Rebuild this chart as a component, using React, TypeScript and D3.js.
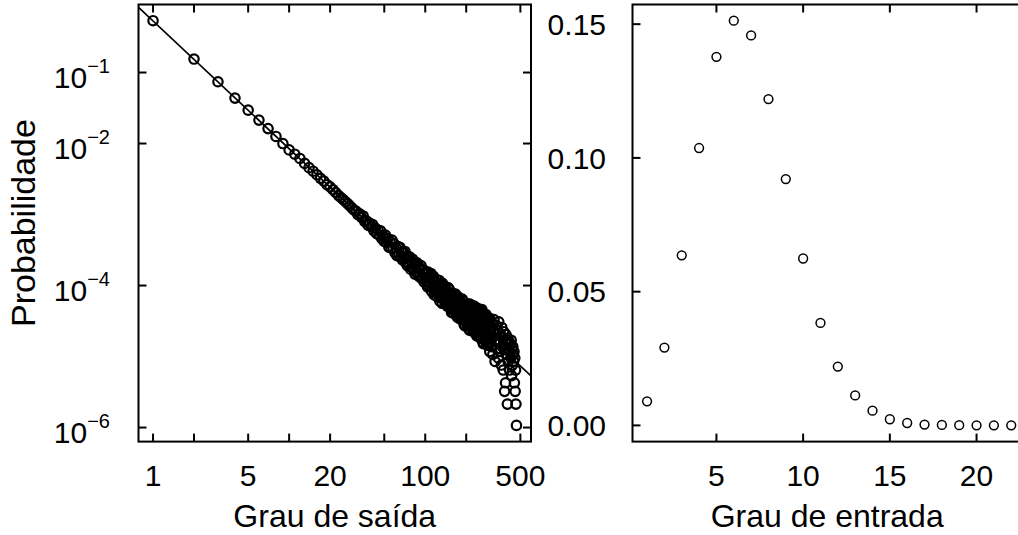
import React from 'react';
import * as d3 from 'd3';

// ---- Left panel: out-degree distribution (log-log) ----
const outDegree = [
  1, 2, 3, 4, 5, 6, 7, 8, 9, 10, 11, 12, 13, 14, 15, 16, 17, 18, 19, 20,
  21, 22, 23, 24, 25, 26, 27, 28, 29, 30, 31, 32, 33, 34, 35, 36, 37, 38, 39, 40,
  41, 42, 43, 44, 45, 46, 47, 48, 49, 50, 51, 52, 53, 54, 55, 56, 57, 58, 59, 60,
  61, 62, 63, 64, 65, 66, 67, 68, 69, 70, 71, 72, 73, 74, 75, 76, 77, 78, 79, 80,
  81, 82, 83, 84, 85, 86, 87, 88, 89, 90, 91, 92, 93, 94, 95, 96, 97, 98, 99, 100,
  102, 104, 106, 108, 110, 112, 114, 116, 118, 120, 122, 124, 126, 128, 130, 132, 134, 136, 138, 140,
  142, 144, 146, 148, 150, 152, 154, 156, 158, 160, 162, 164, 166, 168, 170, 172, 174, 176, 178, 180,
  182, 184, 186, 188, 190, 192, 194, 196, 198, 200, 202, 204, 206, 208, 210, 212, 214, 216, 218, 220,
  222, 224, 226, 228, 230, 232, 234, 236, 238, 240, 242, 244, 246, 248, 250, 252, 254, 256, 258, 260,
  262, 264, 266, 268, 270, 272, 274, 276, 278, 280, 282, 284, 286, 288, 290, 292, 294, 296, 298, 300,
  302, 305, 308, 311, 314, 317, 320, 323, 326, 329, 332, 335, 338, 341, 344, 347, 350, 353, 356, 359,
  362, 365, 368, 371, 374, 377, 380, 383, 386, 389, 392, 395, 398, 401, 404, 407, 410, 413, 416, 419,
  422, 425, 428, 431, 434, 437, 440, 443, 446, 449, 452, 455, 458, 461, 464, 468,
  101, 103, 105, 107, 109, 111, 113, 115, 117, 119, 121, 123, 125, 127, 129, 131, 133, 135, 137, 139,
  141, 143, 145, 147, 149, 151, 153, 155, 157, 159, 161, 163, 165, 167, 169, 171, 173, 175, 177, 179,
  181, 183, 185, 187, 189, 191, 193, 195, 197, 199, 201, 203, 205, 207, 209, 211, 213, 215, 217, 219,
  221, 223, 225, 227, 229, 231, 233, 235, 237, 239, 241, 243, 245, 247, 249, 251, 253, 255, 257, 259,
  261, 263, 265, 267, 269, 271, 273, 275, 277, 279, 281, 283, 285, 287, 289, 291, 293, 295, 297, 299,
];
// probabilities read on the log axis (log10 of the probability)
const outLog10Prob = [
  -0.27, -0.81, -1.13, -1.36, -1.53, -1.67, -1.79, -1.90, -2.00, -2.09, -2.15, -2.21, -2.28, -2.34, -2.39, -2.44, -2.49, -2.53, -2.58, -2.61,
  -2.65, -2.69, -2.73, -2.76, -2.79, -2.82, -2.85, -2.88, -2.91, -2.94, -2.95, -3.00, -2.99, -3.04, -3.02, -3.10, -3.09, -3.15, -3.12, -3.17,
  -3.14, -3.23, -3.19, -3.27, -3.22, -3.29, -3.23, -3.34, -3.30, -3.38, -3.29, -3.39, -3.34, -3.46, -3.38, -3.47, -3.36, -3.47, -3.41, -3.54,
  -3.47, -3.58, -3.45, -3.56, -3.46, -3.60, -3.53, -3.64, -3.53, -3.62, -3.52, -3.68, -3.59, -3.72, -3.59, -3.69, -3.60, -3.77, -3.66, -3.75,
  -3.63, -3.76, -3.68, -3.84, -3.71, -3.82, -3.68, -3.81, -3.72, -3.87, -3.77, -3.86, -3.72, -3.90, -3.79, -3.88, -3.78, -3.95, -3.82, -3.89,
  -3.81, -4.02, -3.89, -4.00, -3.83, -4.00, -3.91, -4.13, -3.98, -4.10, -3.92, -4.07, -4.00, -4.22, -3.99, -4.15, -3.97, -4.13, -4.08, -4.26,
  -4.05, -4.23, -4.15, -4.28, -4.05, -4.24, -4.13, -4.38, -4.19, -4.33, -4.13, -4.28, -4.20, -4.41, -4.19, -4.36, -4.16, -4.35, -4.27, -4.47,
  -4.23, -4.43, -4.33, -4.48, -4.22, -4.43, -4.30, -4.57, -4.36, -4.49, -4.30, -4.53, -4.26, -4.49, -4.38, -4.61, -4.33, -4.47, -4.28, -4.58,
  -4.40, -4.52, -4.35, -4.64, -4.46, -4.31, -4.61, -4.41, -4.55, -4.37, -4.70, -4.48, -4.34, -4.63, -4.44, -4.58, -4.39, -4.72, -4.50, -4.36,
  -4.66, -4.46, -4.80, -4.56, -4.42, -4.63, -4.47, -4.76, -4.53, -4.41, -4.74, -4.57, -4.48, -4.83, -4.64, -4.46, -4.71, -4.54, -4.93, -4.63,
  -4.59, -4.86, -4.52, -4.74, -4.97, -4.65, -4.48, -4.79, -5.07, -4.69, -4.56, -4.89, -4.63, -4.77, -5.02, -4.51, -4.82, -4.67, -4.93, -4.71,
  -5.12, -4.59, -4.86, -4.74, -5.19, -4.65, -4.89, -5.49, -4.79, -5.37, -4.69, -4.97, -4.82, -5.67, -4.74, -5.07, -4.89, -4.79, -5.19, -4.93,
  -4.82, -5.02, -4.77, -5.27, -4.89, -5.12, -4.86, -4.97, -5.07, -4.93, -5.37, -5.02, -5.49, -5.19, -5.67, -5.97,
  -3.84, -3.99, -3.81, -3.95, -3.88, -4.08, -3.94, -3.87, -4.07, -3.96, -4.15, -3.96, -4.09, -3.93, -4.17, -4.07, -4.25, -4.02, -4.17, -4.01,
  -4.22, -4.11, -4.29, -4.03, -4.20, -4.13, -4.32, -4.12, -4.29, -4.11, -4.39, -4.21, -4.30, -4.12, -4.37, -4.26, -4.45, -4.20, -4.37, -4.19,
  -4.46, -4.29, -4.38, -4.19, -4.47, -4.30, -4.55, -4.28, -4.44, -4.31, -4.39, -4.56, -4.28, -4.50, -4.35, -4.63, -4.26, -4.43, -4.58, -4.35,
  -4.52, -4.31, -4.65, -4.44, -4.29, -4.61, -4.41, -4.56, -4.35, -4.71, -4.47, -4.32, -4.63, -4.44, -4.71, -4.41, -4.59, -4.37, -4.75, -4.52,
  -4.34, -4.70, -4.48, -4.82, -4.60, -4.43, -4.70, -4.50, -4.78, -4.42, -4.66, -4.56, -4.84, -4.46, -4.72, -4.52, -4.81, -4.61, -4.46, -4.79,
];
const fitIntercept = -0.274; // log10 scale fit line
const fitSlope = -1.8;
const outXTicks = [1, 2, 5, 10, 20, 50, 100, 200, 500];
const outXLabels = [1, 5, 20, 100, 500];
const outYTickExp = [-1, -2, -4, -6];

// ---- Right panel: in-degree distribution ----
const inDegree = [1, 2, 3, 4, 5, 6, 7, 8, 9, 10, 11, 12, 13, 14, 15, 16, 17, 18, 19, 20, 21, 22];
const inProb = [
  0.0090, 0.0291, 0.0636, 0.1037, 0.1378, 0.1513, 0.1458, 0.1220, 0.0921, 0.0624, 0.0383,
  0.0220, 0.0112, 0.0055, 0.0023, 0.0009, 0.0003, 0.0002, 0.0001, 0.00005, 0.00003, 0.00002,
];
const inXTicks = [5, 10, 15, 20];
const inYTicks = [0, 0.05, 0.1, 0.15];
const inYLabels = ['0.00', '0.05', '0.10', '0.15'];

const W = 1018;
const H = 535;
const PL = { x0: 138.5, x1: 531, y0: 4.5, y1: 441.6 };
const PR = { x0: 632.5, x1: 1025.8, y0: 4.5, y1: 441.6 };
const FONT = '"Liberation Sans", Arial, Helvetica, sans-serif';
const TICK = 8;
const FS = 30;

const ext = (a: number, b: number): [number, number] => {
  const d = (b - a) * 0.04;
  return [a - d, b + d];
};

export default function App() {
  const lx = ext(0, Math.log10(d3.max(outDegree) as number));
  const ly = ext(d3.min(outLog10Prob) as number, d3.max(outLog10Prob) as number);
  const xOut = d3.scaleLog().domain([10 ** lx[0], 10 ** lx[1]]).range([PL.x0, PL.x1]);
  const yOut = d3.scaleLog().domain([10 ** ly[0], 10 ** ly[1]]).range([PL.y1, PL.y0]);

  const rx = ext(d3.min(inDegree) as number, d3.max(inDegree) as number);
  const ry = ext(0, d3.max(inProb) as number);
  const xIn = d3.scaleLinear().domain(rx).range([PR.x0, PR.x1]);
  const yIn = d3.scaleLinear().domain(ry).range([PR.y1, PR.y0]);

  const fitX = xOut.domain();
  const fitPts = fitX.map((k) => [xOut(k), yOut(10 ** (fitIntercept + fitSlope * Math.log10(k)))]);
  const line = d3.line()(fitPts as [number, number][]) as string;

  return (
    <svg width={W} height={H} style={{ position: 'absolute', left: 0, top: 0, background: '#fff' }}
      fontFamily={FONT}>
      <defs>
        <clipPath id="clipL">
          <rect x={PL.x0} y={PL.y0} width={PL.x1 - PL.x0} height={PL.y1 - PL.y0} />
        </clipPath>
      </defs>
      <rect x={0} y={0} width={W} height={H} fill="#fff" />

      {/* Left panel */}
      <g>
        {outDegree.map((k, i) => (
          <circle key={i} cx={xOut(k)} cy={yOut(10 ** outLog10Prob[i])} r={4.7}
            fill="none" stroke="#000" strokeWidth={2.2} />
        ))}
        <path d={line} stroke="#000" strokeWidth={1.7} fill="none" clipPath="url(#clipL)" />
        <rect x={PL.x0} y={PL.y0} width={PL.x1 - PL.x0} height={PL.y1 - PL.y0}
          fill="none" stroke="#000" strokeWidth={2} />
        {outXTicks.map((t) => (
          <g key={'xt' + t}>
            <line x1={xOut(t)} x2={xOut(t)} y1={PL.y1} y2={PL.y1 - TICK} stroke="#000" strokeWidth={2} />
            <line x1={xOut(t)} x2={xOut(t)} y1={PL.y0} y2={PL.y0 + TICK} stroke="#000" strokeWidth={2} />
          </g>
        ))}
        {outYTickExp.map((e) => (
          <g key={'yt' + e}>
            <line x1={PL.x0} x2={PL.x0 + TICK} y1={yOut(10 ** e)} y2={yOut(10 ** e)} stroke="#000" strokeWidth={2} />
            <line x1={PL.x1} x2={PL.x1 - TICK} y1={yOut(10 ** e)} y2={yOut(10 ** e)} stroke="#000" strokeWidth={2} />
          </g>
        ))}
        {outXLabels.map((t) => (
          <text key={'xl' + t} x={xOut(t)} y={486} fontSize={FS} textAnchor="middle">{t}</text>
        ))}
        {outYTickExp.map((e) => (
          <text key={'yl' + e} x={110} y={yOut(10 ** e) + 15.8} fontSize={FS} textAnchor="end">
            <tspan>10</tspan>
            <tspan dy={-15} fontSize={20}>{'\u2212' + Math.abs(e)}</tspan>
          </text>
        ))}
        <text x={(PL.x0 + PL.x1) / 2} y={527} fontSize={32} textAnchor="middle">Grau de saída</text>
        <text transform={`translate(35,${(PL.y0 + PL.y1) / 2}) rotate(-90)`} fontSize={34}
          textAnchor="middle">Probabilidade</text>
      </g>

      {/* Right panel */}
      <g>
        {inDegree.map((k, i) => (
          <circle key={i} cx={xIn(k)} cy={yIn(inProb[i])} r={4.4}
            fill="none" stroke="#000" strokeWidth={1.5} />
        ))}
        <rect x={PR.x0} y={PR.y0} width={PR.x1 - PR.x0} height={PR.y1 - PR.y0}
          fill="none" stroke="#000" strokeWidth={2} />
        {inXTicks.map((t) => (
          <g key={'rxt' + t}>
            <line x1={xIn(t)} x2={xIn(t)} y1={PR.y1} y2={PR.y1 - TICK} stroke="#000" strokeWidth={2} />
            <line x1={xIn(t)} x2={xIn(t)} y1={PR.y0} y2={PR.y0 + TICK} stroke="#000" strokeWidth={2} />
            <text x={xIn(t)} y={486} fontSize={FS} textAnchor="middle">{t}</text>
          </g>
        ))}
        {inYTicks.map((t, i) => (
          <g key={'ryt' + t}>
            <line x1={PR.x0} x2={PR.x0 + TICK} y1={yIn(t)} y2={yIn(t)} stroke="#000" strokeWidth={2} />
            <text x={606} y={yIn(t) + 10.8} fontSize={FS} textAnchor="end">{inYLabels[i]}</text>
          </g>
        ))}
        <text x={(PR.x0 + PR.x1) / 2 - 2} y={527} fontSize={32} textAnchor="middle">Grau de entrada</text>
      </g>
    </svg>
  );
}
